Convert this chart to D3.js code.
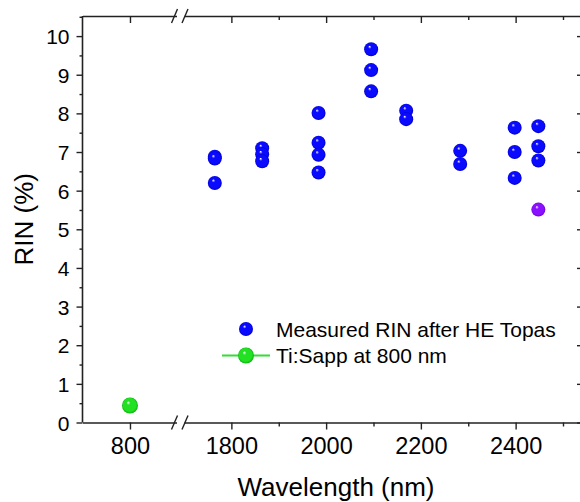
<!DOCTYPE html>
<html>
<head>
<meta charset="utf-8">
<script src="https://cdn.jsdelivr.net/npm/d3@7"></script>
<style>
  body { margin: 0; background: #fff; }
  svg text { font-family: "Liberation Sans", Arial, sans-serif; fill: #000; }
</style>
</head>
<body>
<script>
// measured RIN after HE Topas (wavelength nm, RIN %)
var topasWl  = [1765, 1765, 1765, 1865, 1865, 1865, 1984, 1984, 1984, 1984,
                2095, 2095, 2095, 2169, 2169, 2283, 2283, 2398, 2398, 2398,
                2448, 2448, 2448];
var topasRin = [6.88, 6.83, 6.20, 7.10, 6.94, 6.76, 8.01, 7.24, 6.93, 6.47,
                9.66, 9.12, 8.57, 8.07, 7.85, 7.03, 6.69, 7.63, 7.00, 6.33,
                7.67, 7.15, 6.78];
// odd point drawn in purple
var extraWl  = [2448];
var extraRin = [5.51];
// Ti:Sapp reference
var tisWl  = [800];
var tisRin = [0.44];

var yMajor = [0, 1, 2, 3, 4, 5, 6, 7, 8, 9, 10];
var yMinor = [0.5, 1.5, 2.5, 3.5, 4.5, 5.5, 6.5, 7.5, 8.5, 9.5, 10.5];
var xMajorLeft = [800];
var xMajorRight = [1800, 2000, 2200, 2400];
var xMinorRight = [1900, 2100, 2300, 2500];

var legendLabels = ["Measured RIN after HE Topas", "Ti:Sapp at 800 nm"];

(function () {
var W = 580, H = 502;
var pLeft = 82.5, pTop = 16, pBottom = 422.5, pRight = 581;
var breakL = 176.5, breakR = 184;

var svg = d3.select("body").append("svg")
    .attr("width", W)
    .attr("height", H);

var y = d3.scaleLinear().domain([0, 10.52]).range([pBottom, pTop]);
var xL = d3.scaleLinear().domain([700, 898]).range([pLeft, breakL]);
var xR = d3.scaleLinear().domain([1700, 2538]).range([breakR, pRight]);

// sphere gradients
var defs = svg.append("defs");
function ball(id, col, dark) {
    var g = defs.append("radialGradient").attr("id", id)
        .attr("cx", "50%").attr("cy", "50%").attr("r", "50%")
        .attr("fx", "38%").attr("fy", "30%");
    g.append("stop").attr("offset", "0%").attr("stop-color", "#ffffff");
    g.append("stop").attr("offset", "25%").attr("stop-color", col);
    g.append("stop").attr("offset", "80%").attr("stop-color", col);
    g.append("stop").attr("offset", "100%").attr("stop-color", dark);
}
ball("gBlue", "#0a0aff", "#0000c8");
ball("gGreen", "#22e022", "#10b010");
ball("gPurple", "#8a10ff", "#6a00d0");

function axisStyle(sel) {
    sel.selectAll("path").attr("stroke", "#222").attr("stroke-width", 1.6);
    sel.selectAll("line").attr("stroke", "#222").attr("stroke-width", 1.4);
}

// y axis left
svg.append("g")
    .attr("transform", "translate(" + pLeft + ",0)")
    .call(d3.axisLeft(y).tickValues(yMinor).tickSize(3).tickFormat("").tickSizeOuter(0))
    .call(axisStyle)
    .select(".domain").remove();
var ya = svg.append("g")
    .attr("transform", "translate(" + pLeft + ",0)")
    .call(d3.axisLeft(y).tickValues(yMajor).tickSize(6).tickPadding(7).tickSizeOuter(0))
    .call(axisStyle);
ya.select(".domain").attr("d", "M0," + pTop + "V" + pBottom);
ya.selectAll("text").style("font-size", "21px").attr("dy", "0.36em");

// y axis right (ticks inward)
svg.append("g")
    .attr("transform", "translate(" + pRight + ",0)")
    .call(d3.axisLeft(y).tickValues(yMajor).tickSize(4).tickFormat("").tickSizeOuter(0))
    .call(axisStyle);

// x axes, two segments, bottom (out) and top (in)
function xAxis(scale, majors, minors, yPos, isTop) {
    var g = svg.append("g").attr("transform", "translate(0," + yPos + ")");
    g.call(d3.axisBottom(scale).tickValues(majors).tickSize(7).tickPadding(8).tickSizeOuter(0)
        .tickFormat(isTop ? "" : d3.format("d")))
        .call(axisStyle);
    g.selectAll("text").style("font-size", "23.5px");
    if (minors.length) {
        svg.append("g").attr("transform", "translate(0," + yPos + ")")
            .call(d3.axisBottom(scale).tickValues(minors).tickSize(4).tickFormat("").tickSizeOuter(0))
            .call(axisStyle)
            .select(".domain").remove();
    }
}
xAxis(xL, xMajorLeft, [], pBottom, false);
xAxis(xR, xMajorRight, xMinorRight, pBottom, false);
xAxis(xL, xMajorLeft, [], pTop, true);
xAxis(xR, xMajorRight, xMinorRight, pTop, true);

// break marks
[pTop, pBottom].forEach(function (yy) {
    [breakL - 2, breakR + 1].forEach(function (cx) {
        svg.append("line")
            .attr("x1", cx - 3).attr("y1", yy + 7)
            .attr("x2", cx + 3).attr("y2", yy - 7)
            .attr("stroke", "#222").attr("stroke-width", 1.4);
    });
});

// points
var pts = svg.append("g");
pts.selectAll(".topas")
    .data(topasWl.map(function (w, i) { return [w, topasRin[i]]; }))
    .enter().append("circle")
    .attr("cx", function (d) { return xR(d[0]); })
    .attr("cy", function (d) { return y(d[1]); })
    .attr("r", 7)
    .attr("fill", "url(#gBlue)");
pts.selectAll(".extra")
    .data(extraWl.map(function (w, i) { return [w, extraRin[i]]; }))
    .enter().append("circle")
    .attr("cx", function (d) { return xR(d[0]); })
    .attr("cy", function (d) { return y(d[1]); })
    .attr("r", 7)
    .attr("fill", "url(#gPurple)");
pts.selectAll(".tis")
    .data(tisWl.map(function (w, i) { return [w, tisRin[i]]; }))
    .enter().append("circle")
    .attr("cx", function (d) { return xL(d[0]); })
    .attr("cy", function (d) { return y(d[1]); })
    .attr("r", 8)
    .attr("fill", "url(#gGreen)");

// legend
var lg = svg.append("g").attr("transform", "translate(246,329)");
lg.append("circle").attr("r", 7).attr("fill", "url(#gBlue)");
lg.append("line").attr("x1", -24).attr("x2", 24).attr("y1", 26.5).attr("y2", 26.5)
    .attr("stroke", "#33dd33").attr("stroke-width", 1.8);
lg.append("circle").attr("cy", 26.5).attr("r", 8).attr("fill", "url(#gGreen)");
lg.selectAll("text")
    .data(legendLabels)
    .enter().append("text")
    .attr("x", 30)
    .attr("y", function (d, i) { return i * 26.5; })
    .attr("dy", "0.36em")
    .style("font-size", "21px")
    .text(function (d) { return d; });

// axis titles
svg.append("text")
    .attr("transform", "translate(33," + ((pTop + pBottom) / 2) + ") rotate(-90)")
    .style("text-anchor", "middle")
    .style("font-size", "26px")
    .text("RIN (%)");
svg.append("text")
    .attr("x", 336)
    .attr("y", 496)
    .style("text-anchor", "middle")
    .style("font-size", "26px")
    .text("Wavelength (nm)");
})();
</script>
</body>
</html>
